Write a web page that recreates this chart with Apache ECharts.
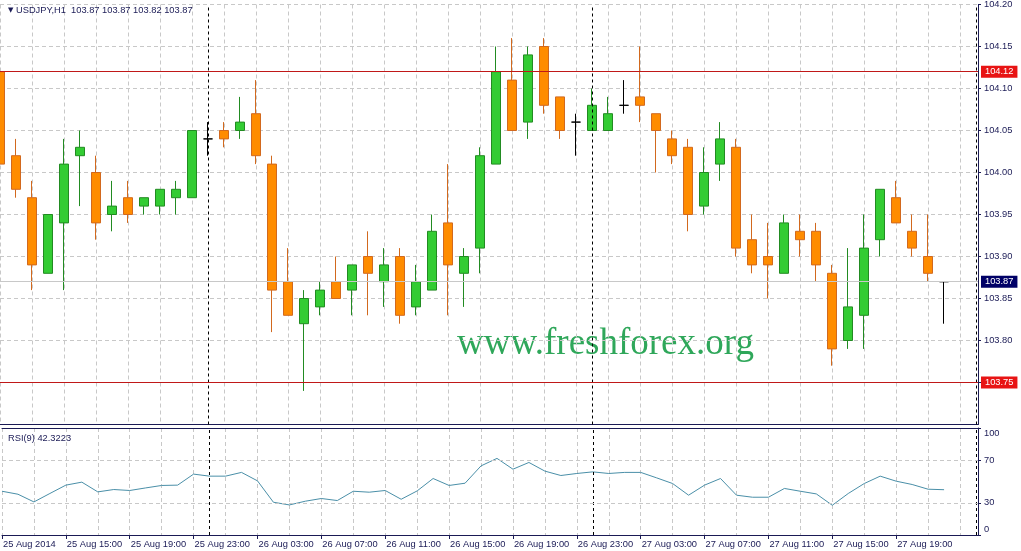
<!DOCTYPE html>
<html><head><meta charset="utf-8">
<script src="https://cdn.jsdelivr.net/npm/echarts@6/dist/echarts.min.js"></script>
<style>html,body{margin:0;padding:0;background:#fff}#c{width:1021px;height:551px}</style>
</head><body><div id="c"></div>
<script>
const symbolName = 'USDJPY,H1';
const startHour = 11; // first bar: 25 Aug 2014 11:00
const opens  = [104.12,104.02,103.97,103.88,103.94,104.02,104.00,103.95,103.97,103.96,
                103.96,103.97,103.97,104.04,104.05,104.05,104.07,104.01,103.87,103.82,
                103.84,103.87,103.86,103.90,103.87,103.90,103.84,103.86,103.94,103.88,
                103.91,104.01,104.11,104.06,104.15,104.09,104.06,104.05,104.05,104.08,
                104.09,104.07,104.04,104.03,103.96,104.01,104.03,103.92,103.90,103.88,
                103.93,103.93,103.88,103.80,103.83,103.92,103.97,103.93,103.90,103.87];
const highs  = [104.14,104.04,103.99,103.95,104.04,104.05,104.02,103.99,103.99,103.97,
                103.98,103.99,104.05,104.06,104.06,104.09,104.11,104.02,103.91,103.86,
                103.87,103.90,103.89,103.93,103.91,103.91,103.89,103.95,104.01,103.91,
                104.03,104.15,104.16,104.15,104.16,104.09,104.07,104.10,104.09,104.11,
                104.15,104.07,104.05,104.04,104.03,104.06,104.04,103.95,103.94,103.95,
                103.95,103.94,103.89,103.91,103.95,103.98,103.99,103.95,103.95,103.87];
const lows   = [103.98,103.97,103.86,103.88,103.86,103.96,103.92,103.93,103.94,103.95,
                103.95,103.95,103.97,104.02,104.03,104.04,104.01,103.81,103.83,103.74,
                103.83,103.85,103.83,103.83,103.84,103.82,103.83,103.86,103.83,103.84,
                103.88,104.01,104.05,104.04,104.07,104.04,104.02,104.05,104.05,104.07,
                104.06,104.00,104.01,103.93,103.95,103.99,103.90,103.88,103.85,103.88,
                103.90,103.87,103.77,103.79,103.79,103.90,103.94,103.90,103.87,103.82];
const closes = [104.01,103.98,103.89,103.95,104.01,104.03,103.94,103.96,103.95,103.97,
                103.98,103.98,104.05,104.04,104.04,104.06,104.02,103.86,103.83,103.85,
                103.86,103.85,103.89,103.88,103.89,103.83,103.87,103.93,103.89,103.90,
                104.02,104.12,104.05,104.14,104.08,104.05,104.06,104.08,104.07,104.08,
                104.08,104.05,104.02,103.95,104.00,104.04,103.91,103.89,103.89,103.94,
                103.92,103.89,103.79,103.84,103.91,103.98,103.94,103.91,103.88,103.87];
const rsi = [40.9,38.1,30.9,38.8,46.6,49.4,40.3,42.5,41.6,44.0,
             46.3,46.6,56.9,55.0,55.0,58.5,50.6,30.6,28.1,31.6,
             34.1,32.2,40.9,40.0,41.6,33.4,41.2,52.8,46.3,48.4,
             64.6,71.6,61.5,67.8,59.7,55.6,57.5,59.0,57.5,58.5,
             58.5,53.4,48.1,37.2,46.6,52.8,37.2,35.3,35.3,43.5,
             40.9,38.4,27.8,38.8,48.1,55.0,50.3,47.2,42.8,42.32];
const rsiName = 'RSI(9) 42.3223';
const levelLines = [104.1165, 103.7475];
const bidPrice = 103.87;
const tickIdx = [0,4,8,12,16,20,24,28,32,36,40,44,48,52,56];
const tickLabels = ['25 Aug 2014','25 Aug 15:00','25 Aug 19:00','25 Aug 23:00','26 Aug 03:00',
  '26 Aug 07:00','26 Aug 11:00','26 Aug 15:00','26 Aug 19:00','26 Aug 23:00','27 Aug 03:00',
  '27 Aug 07:00','27 Aug 11:00','27 Aug 15:00','27 Aug 19:00'];
const priceTicks = {min: 103.70, max: 104.20, step: 0.05};
const rsiTicks = [0, 30, 70, 100];
const rsiLevels = [30, 70];

const NAVY = '#1a1a55';
const GRID = '#c8c8c8';
const FONT = 'Liberation Sans, DejaVu Sans, sans-serif';
const FS = 9.3;
const XMAX = 61.125;

// day separators at midnight bars (including the shifted area)
const separators = [];
for (let i = 0; i <= Math.floor(XMAX); i++) if ((startHour + i) % 24 === 0) separators.push(i);

const last = opens.length - 1;
const fmt = v => v.toFixed(2);
const titleText = '{tri|▼} ' + symbolName + '  ' + [opens[last], highs[last], lows[last], closes[last]].map(fmt).join(' ');

const candleData = opens.map((o, i) => {
  const item = {value: [i, o, closes[i], lows[i], highs[i]]};
  if (o === closes[i]) item.itemStyle = {color: '#000', color0: '#000', borderColor: '#000', borderColor0: '#000'};
  return item;
});
const rsiData = rsi.map((v, i) => [i, v]);

const dashed = {color: GRID, type: [4, 3], width: 1};
const navyLine = {show: true, onZero: false, lineStyle: {color: NAVY, width: 1}};

const chart = echarts.init(document.getElementById('c'), null, {renderer: 'canvas'});
chart.setOption({
  animation: false,
  backgroundColor: '#fff',
  textStyle: {fontFamily: FONT},
  title: [
    {text: titleText, left: 3, top: 1, textStyle: {fontSize: FS, fontWeight: 'normal', color: NAVY, fontFamily: FONT,
      rich: {tri: {fontSize: 7, color: NAVY, fontFamily: 'DejaVu Sans'}}}},
    {text: rsiName, left: 3, top: 429, textStyle: {fontSize: FS, fontWeight: 'normal', color: NAVY, fontFamily: FONT}}
  ],
  graphic: [{
    type: 'text', left: 457, top: 326, silent: true,
    style: {text: 'www.freshforex.org', font: '37px "Liberation Serif", "DejaVu Serif", serif', fill: '#2fa75a'}
  }],
  grid: [
    {left: 0, top: 1.5, width: 978, height: 423},
    {left: 0, top: 428, width: 978, height: 107}
  ],
  xAxis: [
    {gridIndex: 0, type: 'value', min: 0, max: XMAX, interval: 2, position: 'bottom',
     axisLine: navyLine, axisTick: {show: false}, axisLabel: {show: false},
     splitLine: {show: true, lineStyle: dashed}},
    {gridIndex: 1, type: 'value', min: 0, max: XMAX, interval: 4, position: 'bottom',
     axisLine: navyLine,
     axisTick: {show: true, length: 4, customValues: tickIdx, lineStyle: {color: NAVY}},
     axisLabel: {show: true, customValues: tickIdx, align: 'left', margin: 5, padding: [0, 0, 0, 1],
       color: NAVY, fontSize: FS, fontFamily: FONT,
       formatter: v => { const k = tickIdx.indexOf(v); return k >= 0 ? tickLabels[k] : ''; }},
     splitLine: {show: false}},
    {gridIndex: 1, type: 'value', min: 0, max: XMAX, interval: 2, position: 'top',
     axisLine: navyLine, axisTick: {show: false}, axisLabel: {show: false},
     splitLine: {show: true, lineStyle: dashed}}
  ],
  yAxis: [
    {gridIndex: 0, type: 'value', position: 'right', min: priceTicks.min, max: priceTicks.max, interval: priceTicks.step,
     axisLine: navyLine,
     axisTick: {show: true, length: 3, lineStyle: {color: NAVY}},
     axisLabel: {show: true, showMinLabel: false, margin: 6, color: NAVY, fontSize: FS, fontFamily: FONT, formatter: v => v.toFixed(2)},
     splitLine: {show: true, lineStyle: dashed}},
    {gridIndex: 1, type: 'value', position: 'right', min: 0, max: 100, interval: 10,
     axisLine: navyLine,
     axisTick: {show: true, length: 3, customValues: rsiTicks, lineStyle: {color: NAVY}},
     axisLabel: {show: true, customValues: rsiTicks, margin: 6, color: NAVY, fontSize: FS, fontFamily: FONT,
       formatter: v => v === 100 ? '{t|100}' : (v === 0 ? '{b|0}' : String(v)),
       rich: {t: {padding: [10, 0, 0, 0], fontSize: FS, color: NAVY, fontFamily: FONT},
              b: {padding: [0, 0, 12, 0], fontSize: FS, color: NAVY, fontFamily: FONT}}},
     splitLine: {show: false}}
  ],
  series: [
    {
      type: 'candlestick', xAxisIndex: 0, yAxisIndex: 0,
      data: candleData, encode: {x: 0, y: [1, 2, 3, 4]},
      barWidth: 10,
      itemStyle: {color: '#33cc33', color0: '#ff8c00', borderColor: '#228b22', borderColor0: '#d2691e',
                  borderColorDoji: '#000', borderWidth: 1},
      markLine: {
        silent: true, symbol: 'none', animation: false,
        data: [
          ...separators.map(s => ({xAxis: s, lineStyle: {color: '#000', type: [3, 3], width: 1}, label: {show: false}})),
          {yAxis: bidPrice, lineStyle: {color: '#c8c8c8', type: 'solid', width: 1},
           label: {show: true, position: 'end', distance: 3, formatter: fmt(bidPrice), color: '#fff', backgroundColor: '#000066',
                   padding: [2, 4, 1, 4], fontSize: FS, fontFamily: FONT}},
          ...levelLines.map(v => ({yAxis: v, lineStyle: {color: '#c01818', type: 'solid', width: 1},
           label: {show: true, position: 'end', distance: 3, formatter: fmt(v), color: '#fff', backgroundColor: '#e81414',
                   padding: [2, 4, 1, 4], fontSize: FS, fontFamily: FONT}}))
        ]
      }
    },
    {
      type: 'line', xAxisIndex: 1, yAxisIndex: 1, data: rsiData,
      symbol: 'none', lineStyle: {color: '#4a8fa8', width: 1}, itemStyle: {color: '#4a8fa8'},
      markLine: {
        silent: true, symbol: 'none', animation: false, label: {show: false},
        data: [
          ...separators.map(s => ({xAxis: s, lineStyle: {color: '#000', type: [3, 3], width: 1}})),
          ...rsiLevels.map(v => ({yAxis: v, lineStyle: dashed}))
        ]
      }
    }
  ]
});
</script>
</body></html>
